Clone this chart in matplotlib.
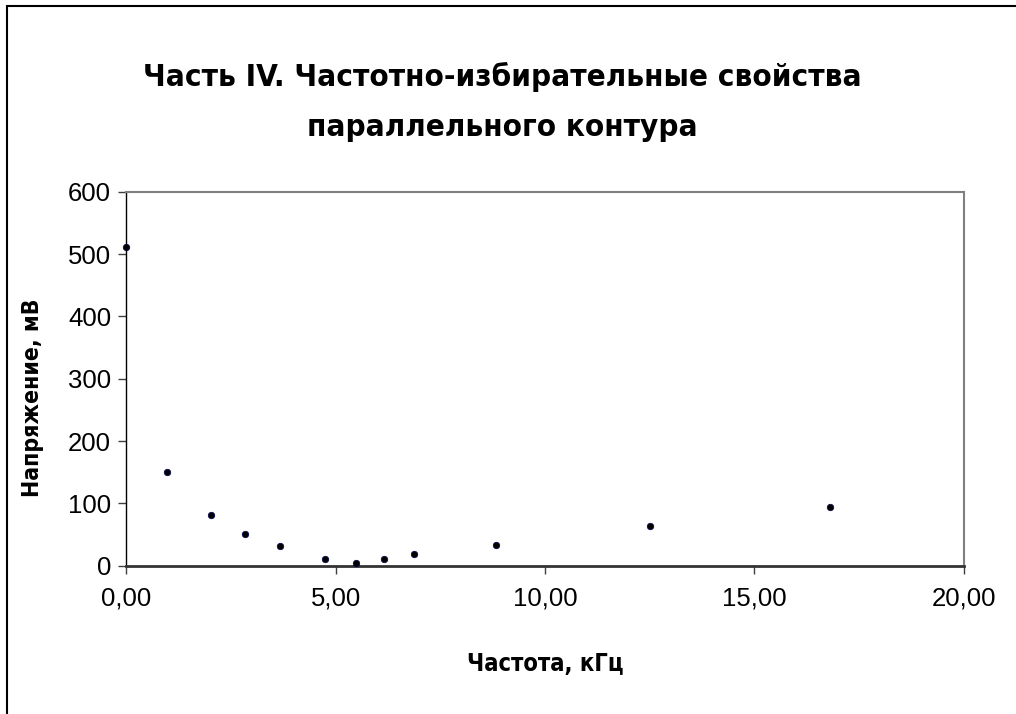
import matplotlib
matplotlib.use('Agg')
import matplotlib.pyplot as plt
from matplotlib.patches import Rectangle
from matplotlib.ticker import FuncFormatter

plt.rcParams['font.family'] = ['Liberation Sans', 'DejaVu Sans']

# frequency, kHz and voltage, mV
freq = [0.0, 0.97, 2.02, 2.83, 3.66, 4.74, 5.48, 6.15, 6.87, 8.83, 12.52, 16.81]
volt = [511, 150, 81, 51, 32, 11, 5, 11, 18, 33, 63, 94]

title = 'Часть IV. Частотно-избирательные свойства\nпараллельного контура'
xlab = 'Частота, кГц'
ylab = 'Напряжение, мВ'

W, H = 1016, 714
fig = plt.figure(figsize=(W/100., H/100.), dpi=100)
fig.patch.set_facecolor('white')

# outer chart frame (cropped on the right and bottom)
fig.patches.append(Rectangle((6.5/W, -0.1), 1.2, (H-6.5)/H + 0.1, transform=fig.transFigure,
                             fill=False, ec='black', lw=1.5))

ax = fig.add_axes([126.3/W, 148.3/H, 837.2/W, 374.0/H])
ax.scatter(freq, volt, s=22, c='black', edgecolors='#000050', linewidths=0.5, zorder=3, clip_on=False)

ax.set_xlim(0, 20)
ax.set_ylim(0, 600)
ax.set_xticks([0, 5, 10, 15, 20])
ax.set_yticks(range(0, 601, 100))
ax.xaxis.set_major_formatter(FuncFormatter(lambda v, p: ('%.2f' % v).replace('.', ',')))

ax.spines['left'].set_color('black')
ax.spines['left'].set_linewidth(1.0)
ax.spines['bottom'].set_color('#333333')
ax.spines['bottom'].set_linewidth(2.0)
ax.spines['top'].set_color('#808080')
ax.spines['top'].set_linewidth(1.5)
ax.spines['right'].set_color('#808080')
ax.spines['right'].set_linewidth(1.5)

ax.tick_params(direction='out', length=6, width=1, color='#404040', labelsize=18.5, pad=5)
ax.tick_params(axis='x', pad=9)

cond = dict(family='DejaVu Sans', fontstretch='condensed', fontweight='bold')
fig.text(502/W, 1 - 102/H, title, ha='center', va='center', fontsize=22.5,
         linespacing=1.95, **cond)
fig.text(545/W, 1 - 664/H, xlab, ha='center', va='center', fontsize=17, **cond)
fig.text(33/W, 1 - 398/H, ylab, ha='center', va='center', rotation=90, fontsize=16.5, **cond)

plt.savefig('out.png', dpi=100)
